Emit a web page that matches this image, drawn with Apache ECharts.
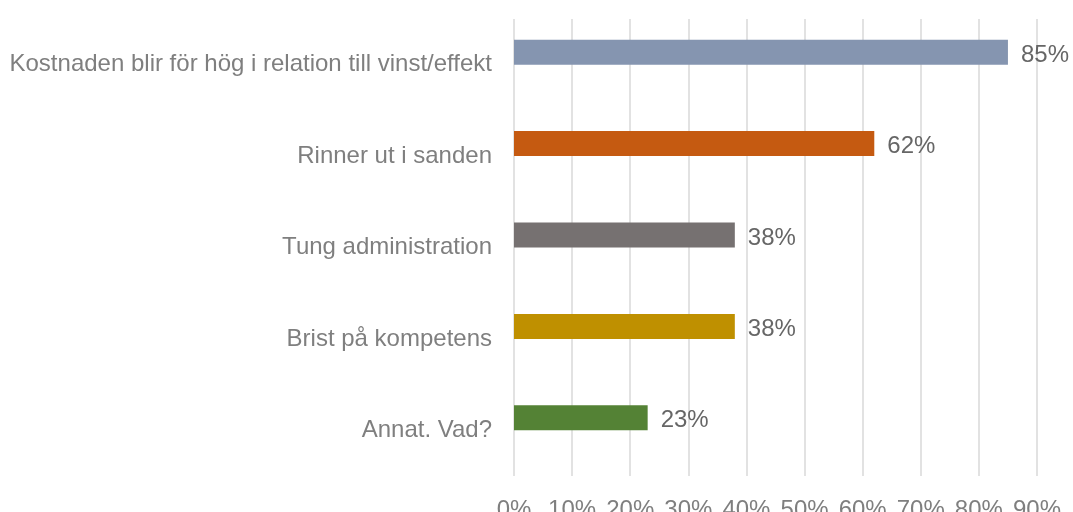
<!DOCTYPE html>
<html>
<head>
<meta charset="utf-8">
<script src="https://cdn.jsdelivr.net/npm/echarts@6/dist/echarts.min.js"></script>
<style>
    html, body { margin: 0; padding: 0; background: #fff; }
    #chart { width: 1073px; height: 512px; }
</style>
</head>
<body>
<div id="chart"></div>
<script>
const categories = [
    'Kostnaden blir för hög i relation till vinst/effekt',
    'Rinner ut i sanden',
    'Tung administration',
    'Brist på kompetens',
    'Annat. Vad?'
]
const shares = [85, 62, 38, 38, 23]
const barColors = ['#8595B0', '#C55A11', '#767171', '#BF9000', '#548235']
// Excel-diagrammet har en tom andra serie, därför sitter staplarna ovanför etiketterna
const emptySeries = [null, null, null, null, null]

const chart = echarts.init(document.getElementById('chart'))

const option = {
    animation: false,
    textStyle: {
        fontFamily: 'Liberation Sans, Arial, sans-serif',
    },
    grid: {
        left: 514,
        right: 36,
        top: 19,
        bottom: 36,
        outerBoundsMode: 'none',
        containLabel: false,
    },
    xAxis: {
        type: 'value',
        min: 0,
        max: 90,
        interval: 10,
        axisLine: { show: false },
        axisTick: { show: false },
        axisLabel: {
            formatter: '{value}%',
            color: '#7F7F7F',
            fontSize: 24,
            margin: 22,
        },
        splitLine: {
            show: true,
            lineStyle: { color: '#D9D9D9', width: 1.5 }
        },
    },
    yAxis: {
        type: 'category',
        inverse: true,
        data: categories,
        axisLine: { show: false },
        axisTick: { show: false },
        axisLabel: {
            color: '#7F7F7F',
            fontSize: 24,
            margin: 22,
            padding: [6, 0, 0, 0],
        },
    },
    series: [
        {
            type: 'bar',
            data: shares.map((v, i) => ({ value: v, itemStyle: { color: barColors[i] } })),
            barWidth: 25,
            barGap: '0%',
            label: {
                show: true,
                position: 'right',
                distance: 13,
                offset: [0, 3],
                formatter: '{c}%',
                color: '#666666',
                fontSize: 24,
            },
        },
        {
            type: 'bar',
            data: emptySeries,
            barWidth: 25,
            silent: true,
        }
    ]
}

chart.setOption(option)
</script>
</body>
</html>
